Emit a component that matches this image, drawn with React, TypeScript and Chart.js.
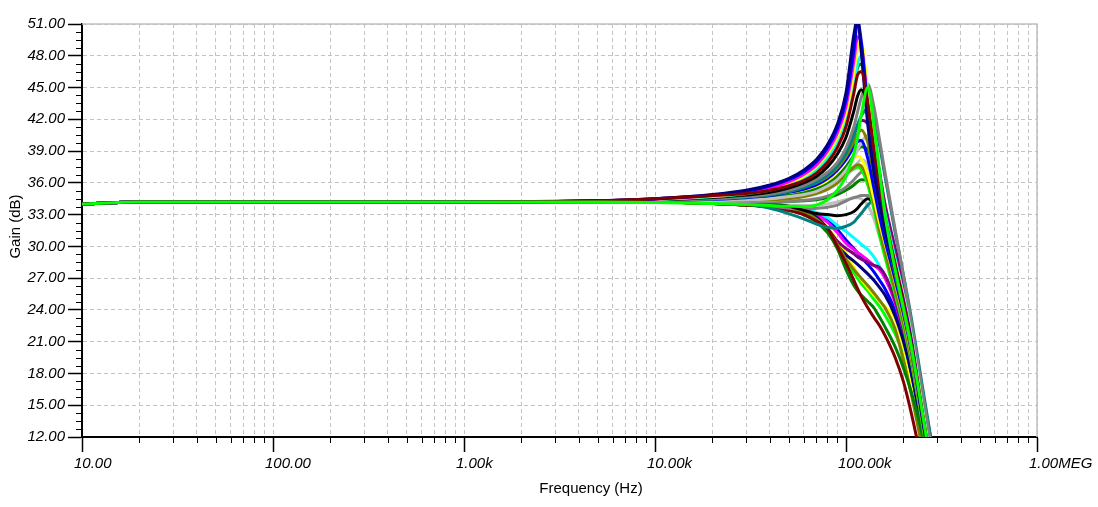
import React, { useEffect, useRef } from "react";
import { Chart, registerables } from "chart.js";

Chart.register(...registerables);

// Frequency grid (Hz) shared by every curve
const FREQ = [10, 20, 1000, 5000, 10000, 20000, 30000, 40000, 50000, 60000, 70000, 80000, 90000, 100000, 110000, 115000, 120000, 130000, 140000, 150000, 160000, 180000, 200000, 220000, 250000, 280000];

// Gain (dB) per Monte-Carlo run
const LIME_A = [34.0, 34.2, 34.2, 34.2, 34.15, 34.05, 33.95, 33.85, 33.8, 33.75, 33.9, 34.4, 35.3, 36.6, 38.8, 40.3, 42.3, 45.0, 41.5, 37.0, 33.0, 28.0, 24.2, 20.5, 14.5, 9.0];
const MAROON_A = [34.0, 34.2, 34.2, 34.3, 34.5, 34.8, 35.0, 35.3, 35.7, 36.2, 36.9, 37.9, 39.3, 41.3, 44.5, 46.2, 46.5, 43.5, 39.2, 35.6, 32.8, 28.5, 24.7, 20.8, 14.5, 9.0];
const NAVY_A = [34.0, 34.2, 34.2, 34.3, 34.5, 34.9, 35.3, 35.8, 36.4, 37.2, 38.2, 39.6, 41.5, 44.5, 50.0, 51.5, 48.5, 41.5, 37.0, 34.0, 31.5, 27.8, 24.5, 20.8, 14.0, 8.5];
const BLUE_A = [34.0, 34.2, 34.2, 34.3, 34.5, 34.85, 35.2, 35.7, 36.3, 37.0, 38.0, 39.3, 41.1, 43.8, 48.5, 51.2, 49.5, 43.0, 38.0, 34.6, 32.0, 28.2, 24.8, 21.0, 14.3, 8.8];
const MAGENTA_A = [34.0, 34.2, 34.2, 34.3, 34.45, 34.8, 35.1, 35.5, 36.1, 36.8, 37.7, 39.0, 40.7, 43.2, 47.5, 49.8, 49.2, 43.5, 38.5, 35.0, 32.3, 28.4, 25.0, 21.2, 14.5, 9.0];
const YELLOW_A = [34.0, 34.2, 34.2, 34.3, 34.45, 34.75, 35.05, 35.45, 36.0, 36.6, 37.5, 38.7, 40.3, 42.6, 46.4, 48.8, 49.3, 44.5, 39.3, 35.6, 32.8, 28.6, 25.2, 21.4, 14.8, 9.2];
const CYAN_A = [34.0, 34.2, 34.2, 34.28, 34.42, 34.7, 35.0, 35.35, 35.85, 36.45, 37.3, 38.4, 39.9, 42.0, 45.2, 47.2, 48.0, 44.8, 39.8, 36.0, 33.2, 29.0, 25.4, 21.6, 15.0, 9.4];
const DKGREEN_A = [34.0, 34.2, 34.2, 34.28, 34.4, 34.68, 34.95, 35.3, 35.8, 36.4, 37.2, 38.3, 39.8, 41.8, 45.0, 46.9, 47.2, 43.3, 38.6, 35.1, 32.4, 28.4, 25.0, 21.2, 14.6, 9.0];
const BLACK_A = [34.0, 34.2, 34.2, 34.27, 34.4, 34.62, 34.85, 35.1, 35.5, 36.0, 36.6, 37.5, 38.7, 40.3, 42.8, 44.2, 44.8, 43.2, 39.3, 35.8, 33.0, 28.8, 25.0, 21.0, 14.6, 9.1];
const GRAY_A = [34.0, 34.2, 34.2, 34.25, 34.35, 34.5, 34.7, 34.95, 35.3, 35.75, 36.3, 37.0, 37.9, 39.3, 41.3, 42.7, 44.0, 45.3, 43.2, 40.0, 37.0, 31.8, 27.2, 22.8, 16.5, 11.0];
const TEAL_A = [34.0, 34.2, 34.2, 34.25, 34.35, 34.5, 34.65, 34.85, 35.15, 35.55, 36.05, 36.7, 37.6, 38.8, 40.5, 41.5, 42.3, 43.0, 42.0, 39.5, 36.6, 31.5, 27.3, 23.2, 17.0, 11.6];
const PURPLE_A = [34.0, 34.2, 34.2, 34.27, 34.35, 34.55, 34.75, 35.0, 35.3, 35.7, 36.2, 36.9, 37.8, 39.0, 40.6, 41.4, 41.9, 41.6, 40.0, 37.0, 34.0, 30.0, 26.5, 22.5, 16.5, 11.5];
const OLIVE_A = [34.0, 34.2, 34.2, 34.25, 34.3, 34.5, 34.7, 34.9, 35.2, 35.6, 36.0, 36.6, 37.4, 38.5, 39.9, 40.6, 41.0, 39.8, 37.0, 34.0, 31.6, 27.6, 24.0, 20.2, 14.2, 8.8];
const BLUE_B = [34.0, 34.2, 34.2, 34.25, 34.3, 34.45, 34.6, 34.8, 35.1, 35.4, 35.8, 36.4, 37.2, 38.2, 39.4, 39.9, 40.0, 38.3, 35.5, 32.8, 30.6, 27.0, 23.6, 20.0, 14.0, 8.6];
const SILVER_A = [34.0, 34.2, 34.2, 34.22, 34.2, 34.3, 34.4, 34.5, 34.7, 34.9, 35.2, 35.7, 36.3, 37.2, 38.4, 39.1, 39.8, 40.5, 39.2, 36.6, 34.0, 29.5, 25.6, 21.6, 15.5, 10.0];
const DKGREEN_B = [34.0, 34.2, 34.2, 34.23, 34.25, 34.35, 34.45, 34.6, 34.8, 35.05, 35.4, 35.9, 36.6, 37.5, 38.6, 39.1, 39.4, 39.2, 36.8, 34.0, 31.7, 27.8, 24.2, 20.4, 14.4, 9.0];
const YELLOW_B = [34.0, 34.2, 34.2, 34.25, 34.3, 34.42, 34.55, 34.72, 34.95, 35.25, 35.6, 36.1, 36.7, 37.5, 38.3, 38.5, 38.3, 36.8, 34.5, 32.2, 30.3, 26.8, 23.4, 19.8, 13.9, 8.5];
const OLIVE_B = [34.0, 34.2, 34.2, 34.25, 34.25, 34.3, 34.35, 34.4, 34.5, 34.7, 35.0, 35.4, 36.0, 36.8, 37.5, 37.7, 37.6, 36.3, 34.0, 31.5, 29.5, 26.0, 22.8, 19.2, 13.6, 8.2];
const SILVER_B = [34.0, 34.2, 34.2, 34.22, 34.2, 34.25, 34.3, 34.38, 34.5, 34.68, 34.95, 35.35, 35.9, 36.6, 37.5, 37.9, 38.2, 37.6, 35.6, 33.3, 31.2, 27.4, 23.9, 20.2, 14.3, 8.8];
const LIME_B = [34.0, 34.2, 34.2, 34.25, 34.28, 34.35, 34.45, 34.6, 34.8, 35.0, 35.3, 35.7, 36.2, 36.8, 37.3, 37.5, 37.3, 35.8, 33.5, 31.0, 29.0, 25.6, 22.4, 19.0, 13.4, 8.0];
const GRAY_B = [34.0, 34.2, 34.2, 34.22, 34.2, 34.2, 34.2, 34.2, 34.25, 34.35, 34.5, 34.75, 35.1, 35.6, 36.3, 36.7, 37.0, 37.3, 36.2, 34.2, 32.2, 28.4, 24.9, 21.1, 15.0, 9.6];
const DKGREEN_C = [34.0, 34.2, 34.2, 34.2, 34.2, 34.2, 34.2, 34.2, 34.25, 34.3, 34.4, 34.6, 34.9, 35.3, 35.8, 36.1, 36.3, 36.2, 34.8, 32.7, 30.6, 27.0, 23.5, 19.9, 14.0, 8.7];
const BLACK_D = [34.0, 34.2, 34.2, 34.2, 34.2, 34.2, 34.1, 34.0, 33.8, 33.4, 33.1, 33.0, 32.9, 33.0, 33.3, 33.6, 34.0, 34.5, 34.0, 32.5, 30.8, 27.2, 23.8, 20.2, 14.3, 9.0];
const TEAL_D = [34.0, 34.2, 34.2, 34.2, 34.2, 34.1, 34.0, 33.6, 33.1, 32.6, 32.1, 31.8, 31.7, 31.9, 32.3, 32.7, 33.1, 33.9, 34.3, 33.5, 32.0, 28.3, 24.8, 21.0, 15.3, 10.0];
const GRAY_D = [34.0, 34.2, 34.2, 34.2, 34.2, 34.1, 34.0, 33.8, 33.6, 33.5, 33.6, 33.7, 33.9, 34.3, 34.6, 34.7, 34.8, 34.8, 34.2, 32.8, 31.0, 27.5, 24.0, 20.4, 14.5, 9.2];
const SILVER_D = [34.0, 34.2, 34.2, 34.2, 34.2, 34.15, 34.1, 34.0, 33.9, 33.85, 33.9, 34.0, 34.2, 34.4, 34.6, 34.6, 34.5, 33.9, 32.6, 30.9, 29.3, 26.0, 22.8, 19.3, 13.7, 8.4];
const MAROON_L = [34.0, 34.2, 34.2, 34.2, 34.2, 34.05, 33.9, 33.7, 33.4, 33.0, 32.4, 31.7, 30.0, 28.4, 26.8, 26.0, 25.3, 24.2, 23.3, 22.5, 21.6, 19.6, 17.2, 14.2, 9.5, 5.0];
const DKGREEN_L = [34.0, 34.2, 34.2, 34.2, 34.2, 34.05, 33.9, 33.7, 33.4, 33.0, 32.3, 31.3, 29.8, 27.8, 26.3, 25.8, 25.4, 24.8, 24.2, 23.3, 22.4, 20.6, 18.5, 16.2, 12.3, 8.0];
const OLIVE_L = [34.0, 34.2, 34.2, 34.2, 34.2, 34.05, 33.9, 33.75, 33.5, 33.2, 32.6, 31.6, 30.2, 28.8, 27.8, 27.4, 27.0, 26.3, 25.6, 24.9, 24.2, 22.3, 19.2, 16.0, 11.0, 6.0];
const NAVY_L = [34.0, 34.2, 34.2, 34.2, 34.2, 34.05, 33.9, 33.75, 33.5, 33.2, 32.7, 31.6, 30.1, 29.2, 28.6, 28.3, 28.0, 27.4, 26.8, 26.1, 25.4, 23.5, 21.0, 18.0, 12.8, 7.5];
const PURPLE_L = [34.0, 34.2, 34.2, 34.2, 34.2, 34.05, 33.9, 33.75, 33.5, 33.3, 32.8, 31.7, 30.5, 29.8, 29.3, 29.0, 28.8, 28.5, 28.2, 28.0, 27.3, 25.0, 22.0, 18.6, 13.3, 8.0];
const MAGENTA_L = [34.0, 34.2, 34.2, 34.2, 34.2, 34.1, 34.0, 33.9, 33.7, 33.45, 33.0, 32.3, 31.3, 30.3, 29.7, 29.4, 29.2, 28.7, 28.2, 27.8, 27.0, 24.8, 21.8, 18.3, 13.0, 8.0];
const CYAN_L = [34.0, 34.2, 34.2, 34.2, 34.2, 34.1, 34.05, 33.95, 33.8, 33.6, 33.2, 32.7, 32.0, 31.4, 30.8, 30.5, 30.2, 29.7, 29.0, 28.1, 27.2, 25.0, 22.0, 18.5, 13.0, 8.0];
const BLUE_L = [34.0, 34.2, 34.2, 34.2, 34.2, 34.1, 34.0, 33.9, 33.75, 33.5, 33.1, 32.5, 31.6, 30.6, 29.8, 29.4, 29.0, 28.3, 27.6, 26.8, 26.0, 24.0, 21.3, 18.0, 12.8, 7.5];
const YELLOW_L = [34.0, 34.2, 34.2, 34.2, 34.2, 34.05, 33.9, 33.75, 33.5, 33.2, 32.6, 31.8, 30.6, 29.3, 28.0, 27.4, 26.9, 26.1, 25.4, 24.8, 24.3, 23.2, 20.5, 17.2, 12.0, 7.0];
const LIME_L = [34.0, 34.2, 34.2, 34.2, 34.2, 34.05, 33.9, 33.7, 33.4, 33.1, 32.5, 31.6, 30.2, 28.5, 27.5, 27.0, 26.5, 25.8, 25.0, 24.3, 23.5, 21.8, 19.8, 17.2, 12.8, 8.5];

// Axis ticks and labels
const X_DECADES = [10, 100, 1000, 10000, 100000, 1000000];
const X_TICK_LABELS = ["10.00", "100.00", "1.00k", "10.00k", "100.00k", "1.00MEG"];
const X_MINOR_MULTIPLIERS = [1, 2, 3, 4, 5, 6, 7, 8, 9];
const Y_MIN = 12;
const Y_MAX = 51;
const Y_STEP = 3;
const Y_MINOR_STEP = 0.75;
const X_TITLE = "Frequency (Hz)";
const Y_TITLE = "Gain (dB)";

// Curves in drawing priority (first = on top) with their colours
const SERIES: [number[], string][] = [
  [LIME_A, "#00ff00"],
  [MAROON_A, "#800000"],
  [NAVY_A, "#000080"],
  [BLUE_A, "#0000ff"],
  [MAGENTA_A, "#ff00ff"],
  [YELLOW_A, "#ffff00"],
  [CYAN_A, "#00ffff"],
  [DKGREEN_A, "#008000"],
  [BLACK_A, "#000000"],
  [GRAY_A, "#808080"],
  [TEAL_A, "#008080"],
  [PURPLE_A, "#800080"],
  [OLIVE_A, "#808000"],
  [BLUE_B, "#0000ff"],
  [SILVER_A, "#c0c0c0"],
  [DKGREEN_B, "#008000"],
  [YELLOW_B, "#ffff00"],
  [OLIVE_B, "#808000"],
  [SILVER_B, "#c0c0c0"],
  [LIME_B, "#00ff00"],
  [GRAY_B, "#808080"],
  [DKGREEN_C, "#008000"],
  [BLACK_D, "#000000"],
  [TEAL_D, "#008080"],
  [GRAY_D, "#808080"],
  [SILVER_D, "#c0c0c0"],
  [MAROON_L, "#800000"],
  [DKGREEN_L, "#008000"],
  [OLIVE_L, "#808000"],
  [NAVY_L, "#000080"],
  [PURPLE_L, "#800080"],
  [MAGENTA_L, "#ff00ff"],
  [CYAN_L, "#00ffff"],
  [BLUE_L, "#0000ff"],
  [YELLOW_L, "#ffff00"],
  [LIME_L, "#00ff00"],
];

const X_TICKS: number[] = [];
X_DECADES.slice(0, -1).forEach((d) => X_MINOR_MULTIPLIERS.forEach((m) => X_TICKS.push(d * m)));
X_TICKS.push(X_DECADES[X_DECADES.length - 1]);

const GRID_COLOR = "#c3c3c3";
const FONT = "'Liberation Sans', Arial, sans-serif";

const decorPlugin = {
  id: "decor",
  beforeDatasetsDraw(chart: any) {
    const { ctx, chartArea: a } = chart;
    ctx.save();
    ctx.strokeStyle = "#c0c0c0";
    ctx.lineWidth = 1.5;
    ctx.beginPath();
    ctx.moveTo(a.left, a.top);
    ctx.lineTo(a.right, a.top);
    ctx.lineTo(a.right, a.bottom);
    ctx.stroke();
    ctx.restore();
  },
  afterDraw(chart: any) {
    const { ctx, chartArea: a, scales } = chart;
    ctx.save();
    ctx.strokeStyle = "#000";
    ctx.lineWidth = 1;
    ctx.beginPath();
    X_TICKS.forEach((v) => {
      if (X_DECADES.includes(v)) return;
      const px = Math.round(scales.x.getPixelForValue(v)) + 0.5;
      ctx.moveTo(px, a.bottom);
      ctx.lineTo(px, a.bottom + 6);
    });
    for (let v = Y_MIN; v <= Y_MAX + 1e-9; v += Y_MINOR_STEP) {
      const r = Math.round(v * 100) / 100;
      if (Math.abs(r / Y_STEP - Math.round(r / Y_STEP)) < 1e-6) continue;
      const py = Math.round(scales.y.getPixelForValue(r)) + 0.5;
      ctx.moveTo(a.left - 6, py);
      ctx.lineTo(a.left, py);
    }
    ctx.stroke();

    // axis titles
    ctx.fillStyle = "#000";
    ctx.font = `15px ${FONT}`;
    ctx.textAlign = "center";
    ctx.textBaseline = "alphabetic";
    ctx.fillText(X_TITLE, 591, 493);
    ctx.translate(19.5, 226.5);
    ctx.rotate(-Math.PI / 2);
    ctx.fillText(Y_TITLE, 0, 0);
    ctx.restore();
  },
};

export default function App() {
  const ref = useRef<HTMLCanvasElement>(null);
  useEffect(() => {
    if (!ref.current) return;
    const datasets = SERIES.map(([vals, color]) => ({
      data: FREQ.map((f, i) => ({ x: f, y: vals[i] })),
      borderColor: color,
      backgroundColor: color,
      borderWidth: 3,
      pointRadius: 0,
      fill: false,
      cubicInterpolationMode: "monotone" as const,
      clip: 0,
    }));
    const chart = new Chart(ref.current, {
      type: "line",
      data: { datasets },
      plugins: [decorPlugin],
      options: {
        animation: false,
        responsive: true,
        maintainAspectRatio: false,
        layout: { padding: { top: 24, left: 0, right: 0, bottom: 0 } },
        plugins: { legend: { display: false }, tooltip: { enabled: false } },
        events: [],
        scales: {
          x: {
            type: "logarithmic",
            min: 10,
            max: 1000000,
            afterBuildTicks: (scale: any) => {
              scale.ticks = X_TICKS.map((v) => ({ value: v, major: X_DECADES.includes(v) }));
            },
            afterFit: (scale: any) => {
              scale.height = 70;
              scale.paddingRight = 61;
              scale.paddingLeft = 0;
            },
            grid: {
              color: GRID_COLOR,
              lineWidth: 1,
              tickLength: 15,
              tickWidth: 1.5,
              tickColor: (ctx: any) => (ctx.tick && X_DECADES.includes(ctx.tick.value) ? "#000" : "rgba(0,0,0,0)"),
            },
            border: { color: "#000", width: 2, dash: [4, 3] },
            ticks: {
              autoSkip: false,
              maxRotation: 0,
              minRotation: 0,
              align: "start",
              labelOffset: -8,
              padding: 3,
              color: "#000",
              font: { family: FONT, size: 15, style: "italic" },
              callback: (value: any) => {
                const idx = X_DECADES.indexOf(Number(value));
                return idx >= 0 ? X_TICK_LABELS[idx] : "";
              },
            },
          },
          y: {
            type: "linear",
            min: Y_MIN,
            max: Y_MAX,
            afterFit: (scale: any) => {
              scale.width = 82;
            },
            grid: {
              color: GRID_COLOR,
              lineWidth: 1,
              tickLength: 14,
              tickWidth: 1.5,
              tickColor: "#000",
            },
            border: { color: "#000", width: 2, dash: [4, 3] },
            ticks: {
              stepSize: Y_STEP,
              padding: 3,
              color: "#000",
              font: { family: FONT, size: 15, style: "italic" },
              callback: (value: any) => Number(value).toFixed(2),
            },
          },
        },
      },
    });
    return () => chart.destroy();
  }, []);
  return (
    <div style={{ position: "fixed", left: 0, top: 0, width: 1098, height: 507, background: "#fff" }}>
      <canvas ref={ref} />
    </div>
  );
}
